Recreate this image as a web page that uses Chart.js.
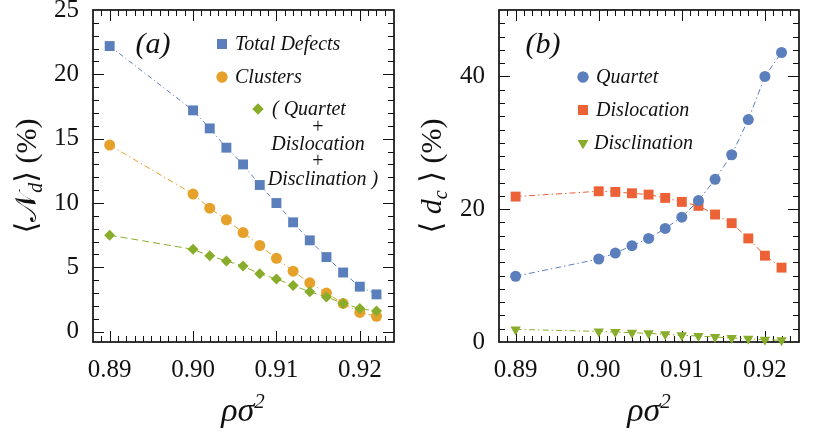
<!DOCTYPE html>
<html>
<head>
<meta charset="utf-8">
<script src="https://cdn.jsdelivr.net/npm/chart.js@4.4.0/dist/chart.umd.min.js"></script>
<style>
html, body { margin: 0; padding: 0; background: #fff; }
#wrap { position: relative; width: 830px; height: 446px; }
canvas { position: absolute; top: 0; }
#left { left: 0; }
#right { left: 415px; }
</style>
</head>
<body>
<div id="wrap">
  <canvas id="left" width="415" height="446"></canvas>
  <canvas id="right" width="415" height="446"></canvas>
</div>
<script>
// densities (x axis, shared by both panels)
const densities = [0.890, 0.900, 0.902, 0.904, 0.906, 0.908, 0.910, 0.912, 0.914, 0.916, 0.918, 0.920, 0.922];

// panel (a): <N_d> in %
const totalDefects = [22.2, 17.2, 15.8, 14.3, 13.0, 11.4, 10.0, 8.5, 7.1, 5.8, 4.6, 3.5, 2.9];
const clusters     = [14.5, 10.7, 9.6, 8.7, 7.7, 6.7, 5.7, 4.7, 3.8, 3.0, 2.2, 1.5, 1.2];
const combined     = [7.5, 6.4, 5.9, 5.5, 5.1, 4.5, 4.1, 3.6, 3.1, 2.7, 2.2, 1.8, 1.6];

// panel (b): <d_c> in %
const quartet      = [9.9, 12.5, 13.4, 14.5, 15.6, 17.1, 18.8, 21.3, 24.5, 28.2, 33.5, 40.0, 43.6];
const dislocation  = [21.9, 22.7, 22.6, 22.4, 22.2, 21.7, 21.1, 20.5, 19.2, 17.9, 15.6, 13.0, 11.2];
const disclination = [1.9, 1.6, 1.5, 1.4, 1.3, 1.15, 1.0, 0.9, 0.75, 0.6, 0.5, 0.35, 0.25];

// tick labels
const xTicks = [0.89, 0.90, 0.91, 0.92];
const leftYTicks = [0, 5, 10, 15, 20, 25];
const rightYTicks = [0, 20, 40];

const SERIF = '"Liberation Serif", "DejaVu Serif", serif';
const BLUE = '#5b7fbd';
const ORANGE = '#e6a12a';
const GREEN = '#88ad2b';
const RED = '#ec6236';

const pts = ys => densities.map((x, i) => ({ x: x, y: ys[i] }));

// draw pieces of text one after another, centred on x
function drawParts(ctx, parts, x, y) {
    let total = 0;
    parts.forEach(p => { ctx.font = p.font; p.w = ctx.measureText(p.text).width; total += p.w; });
    let cx = x - total / 2;
    ctx.textAlign = 'left';
    ctx.textBaseline = 'alphabetic';
    parts.forEach(p => {
        ctx.font = p.font;
        ctx.fillText(p.text, cx, y + (p.dy || 0));
        cx += p.w;
    });
}

// frame box + inward ticks on all four sides
function framePlugin(xMinorStep, yMinorStep, yTicks) {
    return {
        id: 'frame',
        beforeDatasetsDraw(chart) {
            const { ctx, chartArea: a, scales } = chart;
            const xs = scales.x, ys = scales.y;
            ctx.save();
            ctx.strokeStyle = '#111';
            ctx.lineWidth = 1;
            ctx.beginPath();
            // x ticks
            for (let v = 0.888; v <= 0.9241; v += xMinorStep) {
                const r = Math.round(v * 1000) / 1000;
                const px = Math.round(xs.getPixelForValue(r)) + 0.5;
                if (px <= a.left + 1 || px >= a.right - 1) continue;
                const major = xTicks.some(t => Math.abs(t - r) < 1e-6);
                const len = major ? 11 : 6;
                ctx.moveTo(px, a.bottom); ctx.lineTo(px, a.bottom - len);
                ctx.moveTo(px, a.top); ctx.lineTo(px, a.top + len);
            }
            // y ticks
            for (let v = 0; v <= ys.max + 1e-6; v += yMinorStep) {
                const py = Math.round(ys.getPixelForValue(v)) + 0.5;
                if (py <= a.top + 1 || py >= a.bottom - 1) continue;
                const major = yTicks.includes(v);
                const len = major ? 11 : 6;
                ctx.moveTo(a.left, py); ctx.lineTo(a.left + len, py);
                ctx.moveTo(a.right, py); ctx.lineTo(a.right - len, py);
            }
            ctx.stroke();
            ctx.lineWidth = 1.7;
            ctx.strokeRect(a.left, a.top, a.right - a.left, a.bottom - a.top);
            ctx.restore();
        }
    };
}

function marker(ctx, style, color, r, x, y, rot) {
    ctx.fillStyle = color;
    ctx.beginPath();
    Chart.helpers.drawPoint(ctx, { pointStyle: style, radius: r, rotation: rot || 0, borderWidth: 0 }, x, y);
    ctx.fill();
}

const leftDecor = {
    id: 'leftDecor',
    afterDraw(chart) {
        const ctx = chart.ctx;
        ctx.save();
        ctx.fillStyle = '#111';
        // panel label
        drawParts(ctx, [{ text: '(a)', font: 'italic 30px ' + SERIF }], 153, 53);
        // legend
        marker(ctx, 'rect', BLUE, 7, 222, 44);
        marker(ctx, 'circle', ORANGE, 5.5, 222, 77);
        marker(ctx, 'rectRot', GREEN, 5.5, 258, 109);
        ctx.fillStyle = '#111';
        ctx.font = 'italic 20px ' + SERIF;
        ctx.textBaseline = 'middle';
        ctx.textAlign = 'left';
        ctx.fillText('Total Defects', 235, 45);
        ctx.fillText('Clusters', 235, 78);
        ctx.fillText('( Quartet', 272, 110);
        ctx.textAlign = 'center';
        ctx.font = '20px ' + SERIF;
        ctx.fillText('+', 318, 128);
        ctx.fillText('+', 318, 162);
        ctx.font = 'italic 20px ' + SERIF;
        ctx.fillText('Dislocation', 318, 145);
        ctx.fillText('Disclination )', 323, 180);
        // x title
        drawParts(ctx, [
            { text: 'ρσ', font: 'italic 34px ' + SERIF },
            { text: '2', font: 'italic 21px ' + SERIF, dy: -13 }
        ], 243, 421);
        // y title
        ctx.translate(36, 176);
        ctx.rotate(-Math.PI / 2);
        drawParts(ctx, [
            { text: '⟨', font: '30px ' + SERIF },
            { text: '𝒩', font: '30px ' + SERIF },
            { text: 'd', font: 'italic 20px ' + SERIF, dy: 6 },
            { text: '⟩ (%)', font: '30px ' + SERIF }
        ], 0, 0);
        ctx.restore();
    }
};

const rightDecor = {
    id: 'rightDecor',
    afterDraw(chart) {
        const ctx = chart.ctx;
        ctx.save();
        ctx.fillStyle = '#111';
        drawParts(ctx, [{ text: '(b)', font: 'italic 30px ' + SERIF }], 128, 53);
        marker(ctx, 'circle', BLUE, 5.5, 168, 77);
        marker(ctx, 'rect', RED, 7, 168, 110);
        marker(ctx, 'triangle', GREEN, 6, 168, 143, 180);
        ctx.fillStyle = '#111';
        ctx.font = 'italic 20px ' + SERIF;
        ctx.textBaseline = 'middle';
        ctx.textAlign = 'left';
        ctx.fillText('Quartet', 181, 78);
        ctx.fillText('Dislocation', 181, 111);
        ctx.fillText('Disclination', 179, 144);
        drawParts(ctx, [
            { text: 'ρσ', font: 'italic 34px ' + SERIF },
            { text: '2', font: 'italic 21px ' + SERIF, dy: -13 }
        ], 234, 421);
        ctx.translate(26, 176);
        ctx.rotate(-Math.PI / 2);
        drawParts(ctx, [
            { text: '⟨ ', font: '30px ' + SERIF },
            { text: 'd', font: 'italic 30px ' + SERIF },
            { text: 'c', font: 'italic 20px ' + SERIF, dy: 6 },
            { text: ' ⟩ (%)', font: '30px ' + SERIF }
        ], 0, 0);
        ctx.restore();
    }
};

function line(label, ys, color, style, r, dash, order, rot) {
    return {
        label: label,
        data: pts(ys),
        showLine: true,
        borderColor: color,
        borderWidth: 1,
        borderDash: dash,
        backgroundColor: color,
        pointBackgroundColor: color,
        pointBorderWidth: 0,
        pointStyle: style,
        pointRadius: r,
        pointHoverRadius: r,
        pointRotation: rot || 0,
        order: order,
        clip: false
    };
}

function baseOptions(yMin, yMax, yTicks, yWidth, padRight) {
    return {
        responsive: false,
        animation: false,
        layout: { padding: { top: 10, right: padRight, bottom: 0, left: 0 } },
        plugins: { legend: { display: false }, tooltip: { enabled: false } },
        scales: {
            x: {
                type: 'linear',
                min: 0.888,
                max: 0.9241,
                grid: { display: false, drawTicks: false },
                border: { display: false },
                ticks: {
                    font: { family: SERIF, size: 25 },
                    color: '#111',
                    padding: 13,
                    maxRotation: 0,
                    callback: v => v.toFixed(2)
                },
                afterBuildTicks: s => { s.ticks = xTicks.map(v => ({ value: v })); },
                afterFit: s => { s.height = 104; s.paddingLeft = 0; s.paddingRight = 0; }
            },
            y: {
                type: 'linear',
                min: yMin,
                max: yMax,
                grid: { display: false, drawTicks: false },
                border: { display: false },
                ticks: {
                    font: { family: SERIF, size: 25 },
                    color: '#111',
                    padding: 14
                },
                afterBuildTicks: s => { s.ticks = yTicks.map(v => ({ value: v })); },
                afterFit: s => { s.width = yWidth; s.paddingTop = 0; s.paddingBottom = 0; }
            }
        }
    };
}

new Chart(document.getElementById('left'), {
    type: 'scatter',
    data: {
        datasets: [
            line('Total Defects', totalDefects, BLUE, 'rect', 7, [5, 3, 1, 3], 2),
            line('Clusters', clusters, ORANGE, 'circle', 5.5, [6, 3, 1.5, 3], 1),
            line('( Quartet + Dislocation + Disclination )', combined, GREEN, 'rectRot', 5.5, [7, 4], 0)
        ]
    },
    options: baseOptions(-0.8, 25, leftYTicks, 93, 21),
    plugins: [framePlugin(0.001, 1, leftYTicks), leftDecor]
});

new Chart(document.getElementById('right'), {
    type: 'scatter',
    data: {
        datasets: [
            line('Quartet', quartet, BLUE, 'circle', 5.5, [6, 3, 1.5, 3], 1),
            line('Dislocation', dislocation, RED, 'rect', 7, [6, 3, 1.5, 3], 2),
            line('Disclination', disclination, GREEN, 'triangle', 6, [6, 3, 1.5, 3], 0, 180)
        ]
    },
    options: baseOptions(0, 50, rightYTicks, 84, 31),
    plugins: [framePlugin(0.001, 2, rightYTicks), rightDecor]
});
</script>
</body>
</html>
